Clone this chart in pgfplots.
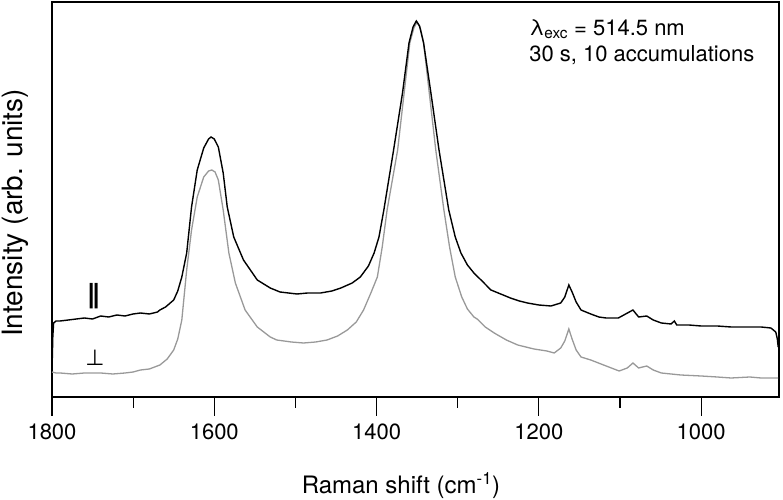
\documentclass[border=0pt]{standalone}
\usepackage{fontspec}
\setmainfont{TeX Gyre Heros}
\newfontfamily\djv{DejaVu Sans}
\usepackage{pgfplots}
\pgfplotsset{compat=1.18}
\definecolor{perpgray}{gray}{0.6}
\begin{document}
\begin{tikzpicture}
\begin{axis}[
 name=ax,
 scale only axis, width=727pt, height=395pt,
 x dir=reverse, xmin=904, xmax=1800, ymin=0, ymax=395,
 ytick=\empty,
 xtick={1000,1200,1400,1600,1800},
 minor xtick={1100,1300,1500,1700},
 xtick pos=bottom, tick align=outside,
 major tick length=19pt, minor tick length=11pt,
 every tick/.style={black, line width=1.1pt},
 axis line style={line width=1.2pt},
 /pgf/number format/assume math mode=true,
 /pgf/number format/1000 sep={},
 xticklabel style={font=\fontsize{22}{26}\selectfont, yshift=-4pt},
 xlabel={Raman shift (cm\textsuperscript{-1})},
 ylabel={Intensity (arb. units)},
 xlabel style={font=\fontsize{24}{28}\selectfont, at={(axis description cs:0.48,0)}, anchor=center, yshift=-89pt},
 ylabel style={font=\fontsize{28}{32}\selectfont, at={(axis description cs:-0.050,0.466)}, anchor=center},
 clip=false,
]
\addplot[perpgray, line width=1.3pt] coordinates {
(1800,25) (1795,24) (1790,24) (1775,23) (1760,24) (1750,24) (1740,24) (1725,23) (1710,24) (1700,25)
(1691,27) (1680,28) (1667,32) (1658,38) (1650,47) (1645,58) (1640,77) (1634,127) (1628,167) (1621,200)
(1613,220) (1607,226) (1603,227) (1599,225) (1595,217) (1589,187) (1582,144) (1574,114) (1562,87) (1547,70)
(1531,60) (1523,57) (1505,55) (1490,54) (1475,55) (1461,57) (1448,61) (1436,67) (1425,75) (1416,87)
(1407,104) (1399,120) (1393,150) (1387,187) (1374,247) (1366,304) (1359,354) (1354,369) (1350,375) (1346,369)
(1342,354) (1335,304) (1327,247) (1317,187) (1310,150) (1303,120) (1295,100) (1288,88) (1280,80) (1276,78)
(1266,70) (1255,64) (1240,57) (1226,52) (1206,48) (1190,46) (1181,44) (1173,49) (1168,56) (1163,68)
(1159,58) (1154,47) (1148,40) (1136,37) (1117,31) (1101,26) (1091,29) (1084,34) (1077,29) (1067,31)
(1059,27) (1049,24) (1025,22) (1000,21) (980,20) (963,19) (940,20) (926,19) (905,19)
};
\addplot[black, line width=1.4pt] coordinates {
(1800,26) (1799,60) (1798,74) (1795,76) (1790,76) (1780,77) (1770,78) (1760,79) (1750,78) (1740,81)
(1730,80) (1720,82) (1710,81) (1700,83) (1691,84) (1680,83) (1670,85) (1667,87) (1660,90) (1650,97)
(1645,106) (1640,120) (1634,144) (1628,190) (1621,227) (1613,249) (1607,258) (1604,260) (1600,258) (1595,250)
(1589,224) (1584,190) (1576,160) (1564,137) (1547,117) (1531,109) (1519,105) (1498,103) (1485,104) (1469,104)
(1455,106) (1444,109) (1430,114) (1420,120) (1410,131) (1403,144) (1397,160) (1391,187) (1379,247) (1368,304)
(1360,354) (1355,370) (1351,376) (1347,371) (1342,354) (1333,304) (1323,247) (1311,187) (1303,160) (1296,144)
(1288,132) (1280,124) (1270,116) (1259,107) (1247,103) (1235,99) (1224,96) (1214,94) (1200,92) (1185,91)
(1173,94) (1168,100) (1163,112) (1159,105) (1154,95) (1148,87) (1136,83) (1126,80) (1117,79) (1102,79)
(1093,83) (1084,87) (1077,80) (1067,81) (1059,77) (1049,74) (1037,73) (1033,76) (1030,72) (1015,72)
(1000,71) (980,71) (963,70) (945,70) (926,70) (914,69) (908,65) (906,58) (905,50)
};
\node[font=\djv\bfseries\fontsize{26}{30}\selectfont] at (axis cs:1749,101) {∥};
\node[font=\djv\fontsize{22}{26}\selectfont] at (axis cs:1747,39) {⊥};
\node[anchor=north west, align=left, font=\fontsize{22}{26}\selectfont, inner sep=0pt] at (axis cs:1212,378)
 {λ\textsubscript{exc} = 514.5 nm\\30 s, 10 accumulations};
\end{axis}
\pgfresetboundingbox
\path[use as bounding box] ([shift={(-52pt,-103pt)}]ax.south west) rectangle ([shift={(4pt,2pt)}]ax.north east);
\end{tikzpicture}
\end{document}
